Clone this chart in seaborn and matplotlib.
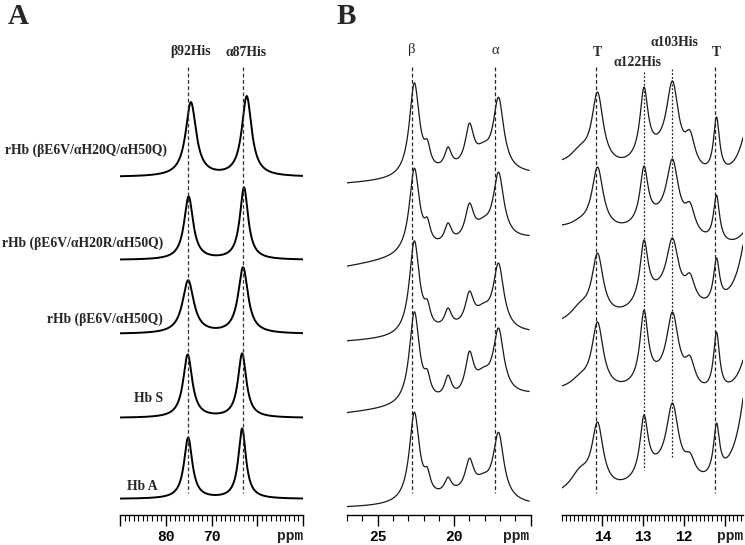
import numpy as np
import pandas as pd
import matplotlib
matplotlib.use("Agg")
import matplotlib.pyplot as plt
import seaborn as sns

sns.set_style("white")
plt.rcParams["font.family"] = ["Liberation Serif", "DejaVu Serif"]


# 1. Data (intensities in arbitrary units above each trace's stack offset)

# Panel A, 90 - 50 ppm
a_names = ["rHb (βE6V/αH20Q/αH50Q)", "rHb (βE6V/αH20R/αH50Q)",
           "rHb (βE6V/αH50Q)", "Hb S", "Hb A"]
a_offset = [338, 255, 181, 97, 16]
a_beta_ppm = [74.5, 75.0, 75.1, 75.2, 75.1]
a_beta_height = [74, 63, 53, 63, 61]
a_beta_hwhm = [1.4, 1.2, 1.5, 1.2, 1.1]
a_alpha_ppm = [62.3, 62.9, 63.1, 63.3, 63.3]
a_alpha_height = [80, 72, 66, 64, 70]
a_alpha_hwhm = [1.3, 1.1, 1.3, 1.1, 1.0]
a_marks = [75.1, 63.2]
a_mark_labels = ["β92His", "α87His"]

# Panel B, 27 - 15 ppm
b_offset = [335, 253, 177, 105, 9]
b_ppm_read = [27.0, 23.5, 22.6, 21.75, 21.2, 20.4, 19.9, 19.0, 18.1, 17.1, 16.0, 15.3]
b_read = [
    [0, 10, 98, 40, 22, 33, 20, 57, 38, 83, 13, 14],
    [0, 10, 95, 44, 28, 39, 27, 59, 45, 90, 30, 29],
    [0, 10, 98, 38, 20, 30, 18, 47, 35, 75, 13, 11],
    [0, 12, 99, 40, 23, 35, 20, 59, 43, 82, 23, 20],
    [0, 14, 94, 38, 23, 29, 18, 48, 33, 74, 8, 9],
]
b_peaks = [22.6, 21.75, 20.4, 19.0, 18.1, 17.1, 19.5]
b_hwhm = [0.4, 0.24, 0.28, 0.34, 0.6, 0.42, 2.5]
b_marks = [22.76, 17.33]
b_mark_labels = ["β", "α"]

# Panel B, 15 - 10.5 ppm
c_offset = [356, 290, 197, 128, 27]
c_ppm_read = [15.0, 14.55, 14.12, 13.4, 12.98, 12.75, 12.28, 11.88, 11.53, 11.2, 10.87, 10.55]
c_read = [
    [0, 14, 67, 1, 72, 27, 78, 29, -1, 42, -7, 22],
    [0, 8, 58, 3, 59, 22, 66, 23, -3, 30, -17, -7],
    [0, 16, 65, 12, 78, 40, 80, 45, 21, 60, 31, 73],
    [0, 14, 65, 9, 77, 27, 75, 32, 4, 55, 5, 27],
    [0, 21, 66, 10, 73, 35, 85, 36, 18, 65, 33, 90],
]
c_peaks = [14.55, 14.12, 12.98, 12.28, 11.85, 11.2, 10.2, 12.6]
c_hwhm = [0.3, 0.17, 0.12, 0.18, 0.15, 0.09, 0.3, 0.7]
c_marks = [14.15, 12.99, 12.29, 11.23]
c_mark_labels = ["T", "α122His", "α103His", "T"]


# 2. Line shapes

def lor(x, c, w):
    return w ** 2 / ((x - c) ** 2 + w ** 2)


def fit_trace(ppm_read, read, peaks, hwhm, grid):
    x = np.array(ppm_read)
    xm = x.mean()
    basis = lambda z: np.column_stack(
        [lor(z, c, w) for c, w in zip(peaks, hwhm)] + [np.ones_like(z), z - xm])
    amp = np.linalg.lstsq(basis(x), np.array(read, float), rcond=None)[0]
    return basis(grid) @ amp


rows = []
grid_a = np.linspace(90, 50, 900)
for i in range(5):
    y = (a_beta_height[i] * lor(grid_a, a_beta_ppm[i], a_beta_hwhm[i])
         + a_alpha_height[i] * lor(grid_a, a_alpha_ppm[i], a_alpha_hwhm[i]))
    rows.append(pd.DataFrame({"panel": "A", "trace": i, "ppm": grid_a, "y": y + a_offset[i]}))

grid_b = np.linspace(27.0, 15.1, 900)
for i in range(5):
    y = fit_trace(b_ppm_read, b_read[i], b_peaks, b_hwhm, grid_b)
    rows.append(pd.DataFrame({"panel": "B", "trace": i, "ppm": grid_b, "y": y + b_offset[i]}))

grid_c = np.linspace(15.0, 10.55, 900)
for i in range(5):
    y = fit_trace(c_ppm_read, c_read[i], c_peaks, c_hwhm, grid_c)
    rows.append(pd.DataFrame({"panel": "C", "trace": i, "ppm": grid_c, "y": y + c_offset[i]}))

df = pd.concat(rows, ignore_index=True)


# 3. Figure

fig = plt.figure(figsize=(7.45, 5.45), dpi=100)
W, H = 745, 545
bottom = (H - 515) / H
height = 485 / H

ax_a = fig.add_axes([120 / W, bottom, 183 / W, height])
ax_b = fig.add_axes([347 / W, bottom, 183.7 / W, height])
ax_c = fig.add_axes([561.7 / W, bottom, 181.3 / W, height])

tick_font = {"family": "Liberation Mono", "weight": "bold", "size": 10.5}

setup = [
    (ax_a, "A", (90, 50), [90, 80, 70, 60, 50], ["", "80", "70", "", ""], np.arange(50, 91, 1), 1.4, "black"),
    (ax_b, "B", (27.0, 15.1), [25, 20, 15], ["25", "20", ""], np.arange(16, 28, 1), 0.9, "#1a1a1a"),
    (ax_c, "C", (15.0, 10.55), [14, 13, 12, 11], ["14", "13", "12", ""], np.arange(10.6, 15.01, 0.1), 0.9, "#1a1a1a"),
]

for ax, key, xlim, major, major_lab, minor, lw, col in setup:
    sub = df[df["panel"] == key]
    sns.lineplot(data=sub, x="ppm", y="y", units="trace", estimator=None,
                 sort=False, color=col, linewidth=lw, ax=ax)
    ax.set_xlim(*xlim)
    ax.set_ylim(0, 485)
    ax.set_xlabel("")
    ax.set_ylabel("")
    ax.set_yticks([])
    for s in ["left", "right", "top"]:
        ax.spines[s].set_visible(False)
    ax.spines["bottom"].set_linewidth(1.0)
    ax.spines["bottom"].set_color("black")
    ax.set_xticks(major)
    ax.set_xticklabels(major_lab, fontdict=tick_font)
    ax.set_xticks(minor, minor=True)
    ax.tick_params(axis="x", which="both", bottom=True, colors="black")
    ax.tick_params(axis="x", which="major", direction="out", length=8, width=1, pad=3)
    ax.tick_params(axis="x", which="minor", direction="out", length=4, width=0.8)
    ax.text(xlim[1], -21, "ppm", ha="right", va="center", **tick_font)

# reference lines
dash = (0, (3, 2))
dot = (0, (1.5, 1.5))
for x in a_marks:
    ax_a.plot([x, x], [448, 22], ls=dash, color="#333333", lw=0.9)
for x in b_marks:
    ax_b.plot([x, x], [448, 22], ls=dash, color="#222222", lw=0.9)
ax_c.plot([c_marks[0]] * 2, [448, 22], ls=dash, color="#222222", lw=0.9)
ax_c.plot([c_marks[3]] * 2, [448, 22], ls=dash, color="#222222", lw=0.9)
ax_c.plot([c_marks[1]] * 2, [443, 45], ls=dot, color="#222222", lw=0.9)
ax_c.plot([c_marks[2]] * 2, [446, 58], ls=dot, color="#222222", lw=0.9)

# peak labels
lab = {"fontsize": 9.8, "weight": "bold", "ha": "center", "va": "center"}
ax_a.text(a_marks[0] - 0.5, 463, a_mark_labels[0], **lab)
ax_a.text(a_marks[1] - 0.8, 463, a_mark_labels[1], **lab)
ax_b.text(b_marks[0], 465, b_mark_labels[0], fontsize=10.5, ha="center", va="center")
ax_b.text(b_marks[1], 465, b_mark_labels[1], fontsize=10.5, ha="center", va="center")
ax_c.text(c_marks[0] - 0.03, 463, c_mark_labels[0], **lab)
ax_c.text(c_marks[1] + 0.15, 452, c_mark_labels[1], **lab)
ax_c.text(c_marks[2] - 0.05, 472, c_mark_labels[2], **lab)
ax_c.text(c_marks[3] - 0.03, 463, c_mark_labels[3], **lab)

# trace names, panel A
name_y = [150, 243, 319, 398, 487]
name_x = [167, 163, 163, 163, 158]
for name, xp, yp in zip(a_names, name_x, name_y):
    fig.text(xp / W, 1 - yp / H, name, ha="right", va="center", fontsize=9.8, weight="bold")

fig.text(8 / W, 1 - 17 / H, "A", fontsize=21, weight="bold", va="center", ha="left")
fig.text(337 / W, 1 - 17 / H, "B", fontsize=21, weight="bold", va="center", ha="left")

fig.savefig("out.png", dpi=100)
